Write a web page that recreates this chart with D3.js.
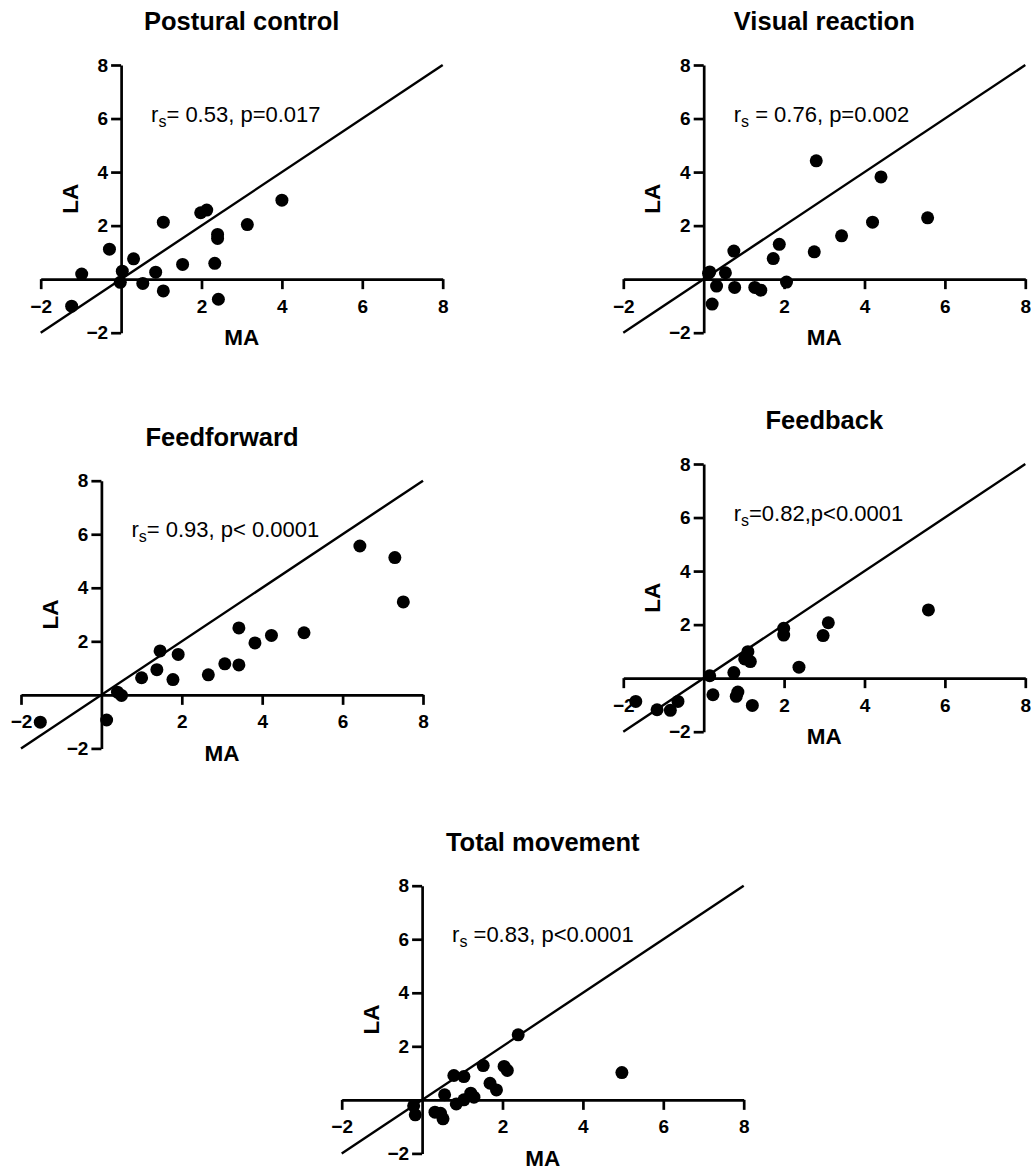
<!DOCTYPE html>
<html>
<head>
<meta charset="utf-8">
<script src="https://cdn.jsdelivr.net/npm/d3@7"></script>
<style>
  html, body { margin: 0; padding: 0; background: #fff; }
  svg { display: block; }
</style>
</head>
<body>
<div id="chart"></div>
<script>
// ---------------- DATA ----------------
const titles = ["Postural control", "Visual reaction", "Feedforward", "Feedback", "Total movement"];
const statsText = ["= 0.53, p=0.017", " = 0.76, p=0.002", "= 0.93, p< 0.0001", "=0.82,p<0.0001", " =0.83, p<0.0001"];
const tickValues = [-2, 2, 4, 6, 8];
const axisDomain = [-2, 8];
const identityLine = [-2, 8];

const posturalMA = [-1.23, -0.98, -0.29, 0.03, -0.02, 0.31, 0.54, 0.86, 1.05, 1.05, 1.53, 1.98, 2.13, 2.33, 2.40, 2.40, 2.42, 3.14, 4.00];
const posturalLA = [-1.01, 0.19, 1.12, 0.30, -0.12, 0.76, -0.16, 0.26, 2.13, -0.44, 0.55, 2.48, 2.58, 0.59, 1.67, 1.52, -0.75, 2.04, 2.95];

const visualMA = [0.12, 0.15, 0.21, 0.32, 0.54, 0.75, 0.77, 1.27, 1.42, 1.73, 1.88, 2.06, 2.75, 2.80, 3.43, 4.20, 4.41, 5.57];
const visualLA = [0.22, 0.27, -0.93, -0.26, 0.24, 1.05, -0.31, -0.31, -0.41, 0.77, 1.30, -0.11, 1.02, 4.42, 1.62, 2.13, 3.82, 2.29];

const feedforwardMA = [-1.52, 0.13, 0.40, 0.50, 1.00, 1.38, 1.46, 1.78, 1.91, 2.66, 3.07, 3.42, 3.42, 3.82, 4.23, 5.04, 6.43, 7.30, 7.51];
const feedforwardLA = [-1.02, -0.94, 0.10, -0.02, 0.64, 0.94, 1.64, 0.57, 1.51, 0.75, 1.16, 2.50, 1.12, 1.94, 2.22, 2.32, 5.56, 5.13, 3.47];

const feedbackMA = [-1.69, -1.16, -0.83, -0.64, 0.15, 0.23, 0.75, 0.85, 0.81, 1.02, 1.10, 1.16, 1.21, 1.99, 1.99, 2.37, 2.97, 3.10, 5.59];
const feedbackLA = [-0.87, -1.18, -1.20, -0.87, 0.09, -0.62, 0.21, -0.52, -0.68, 0.72, 0.99, 0.62, -1.02, 1.86, 1.61, 0.41, 1.59, 2.07, 2.55];

const totalMA = [-0.21, -0.17, 0.32, 0.46, 0.52, 0.56, 0.79, 0.85, 1.04, 1.04, 1.21, 1.29, 1.52, 1.69, 1.85, 2.04, 2.12, 2.39, 4.97];
const totalLA = [-0.22, -0.56, -0.46, -0.50, -0.71, 0.19, 0.91, -0.15, 0.87, 0.00, 0.25, 0.10, 1.28, 0.62, 0.37, 1.25, 1.10, 2.43, 1.02];

const seriesMA = [posturalMA, visualMA, feedforwardMA, feedbackMA, totalMA];
const seriesLA = [posturalLA, visualLA, feedforwardLA, feedbackLA, totalLA];

// ---------------- LAYOUT ----------------
const W = 1031, H = 1170;
const plotW = 402, plotH = 267.7;
const panelPos = [
  { left: 40.7, top: 65 },
  { left: 623.3, top: 65 },
  { left: 21, top: 480.7 },
  { left: 623.3, top: 464 },
  { left: 341.7, top: 885.7 }
];
const FONT = "'Liberation Sans', Arial, Helvetica, sans-serif";

const svg = d3.select("#chart").append("svg")
  .attr("width", W).attr("height", H)
  .attr("viewBox", `0 0 ${W} ${H}`)
  .style("font-family", FONT);

titles.forEach((title, i) => {
  const p = panelPos[i];
  const x = d3.scaleLinear().domain(axisDomain).range([p.left, p.left + plotW]);
  const y = d3.scaleLinear().domain(axisDomain).range([p.top + plotH, p.top]);
  const g = svg.append("g");

  // Title
  g.append("text")
    .attr("x", (x.range()[0] + x.range()[1]) / 2)
    .attr("y", p.top - 35)
    .attr("text-anchor", "middle")
    .attr("font-size", 25.5)
    .attr("font-weight", "bold")
    .attr("fill", "#000")
    .text(title);

  // X axis through origin
  const xAxis = d3.axisBottom(x).tickValues(tickValues).tickSize(10).tickSizeOuter(0).tickPadding(10);
  const gx = g.append("g").attr("transform", `translate(0,${y(0)})`).call(xAxis);
  // Y axis through origin
  const yAxis = d3.axisLeft(y).tickValues(tickValues).tickSize(10).tickSizeOuter(0).tickPadding(3);
  const gy = g.append("g").attr("transform", `translate(${x(0)},0)`).call(yAxis);

  [gx, gy].forEach(a => {
    a.select(".domain").attr("stroke", "#000").attr("stroke-width", 2.7);
    a.selectAll(".tick line").attr("stroke", "#000").attr("stroke-width", 2.7);
    a.selectAll(".tick text")
      .attr("fill", "#000")
      .attr("font-size", 19)
      .attr("font-weight", "bold")
      .attr("font-family", FONT);
  });

  // Identity line
  g.append("line")
    .attr("x1", x(identityLine[0])).attr("y1", y(identityLine[0]))
    .attr("x2", x(identityLine[1])).attr("y2", y(identityLine[1]))
    .attr("stroke", "#000").attr("stroke-width", 2.4);

  // Points
  const pts = seriesMA[i].map((m, k) => ({ ma: m, la: seriesLA[i][k] }));
  g.append("g").selectAll("circle").data(pts).join("circle")
    .attr("cx", d => x(d.ma))
    .attr("cy", d => y(d.la))
    .attr("r", 6.5)
    .attr("fill", "#000");

  // Axis labels
  g.append("text")
    .attr("x", x(3))
    .attr("y", y(0) + 66)
    .attr("text-anchor", "middle")
    .attr("font-size", 22.5)
    .attr("font-weight", "bold")
    .attr("fill", "#000")
    .text("MA");
  g.append("text")
    .attr("transform", `translate(${x(0) - 43.5},${y(3)}) rotate(-90)`)
    .attr("text-anchor", "middle")
    .attr("font-size", 22.5)
    .attr("font-weight", "bold")
    .attr("fill", "#000")
    .text("LA");

  // Correlation annotation
  const t = g.append("text")
    .attr("x", x(0) + 30)
    .attr("y", y(8) + 56.7)
    .attr("font-size", 22)
    .attr("fill", "#000");
  t.append("tspan").text("r");
  t.append("tspan").attr("font-size", 16).attr("dy", 5).text("s");
  t.append("tspan").attr("dy", -5).style("white-space", "pre").text(statsText[i]);
});
</script>
</body>
</html>
